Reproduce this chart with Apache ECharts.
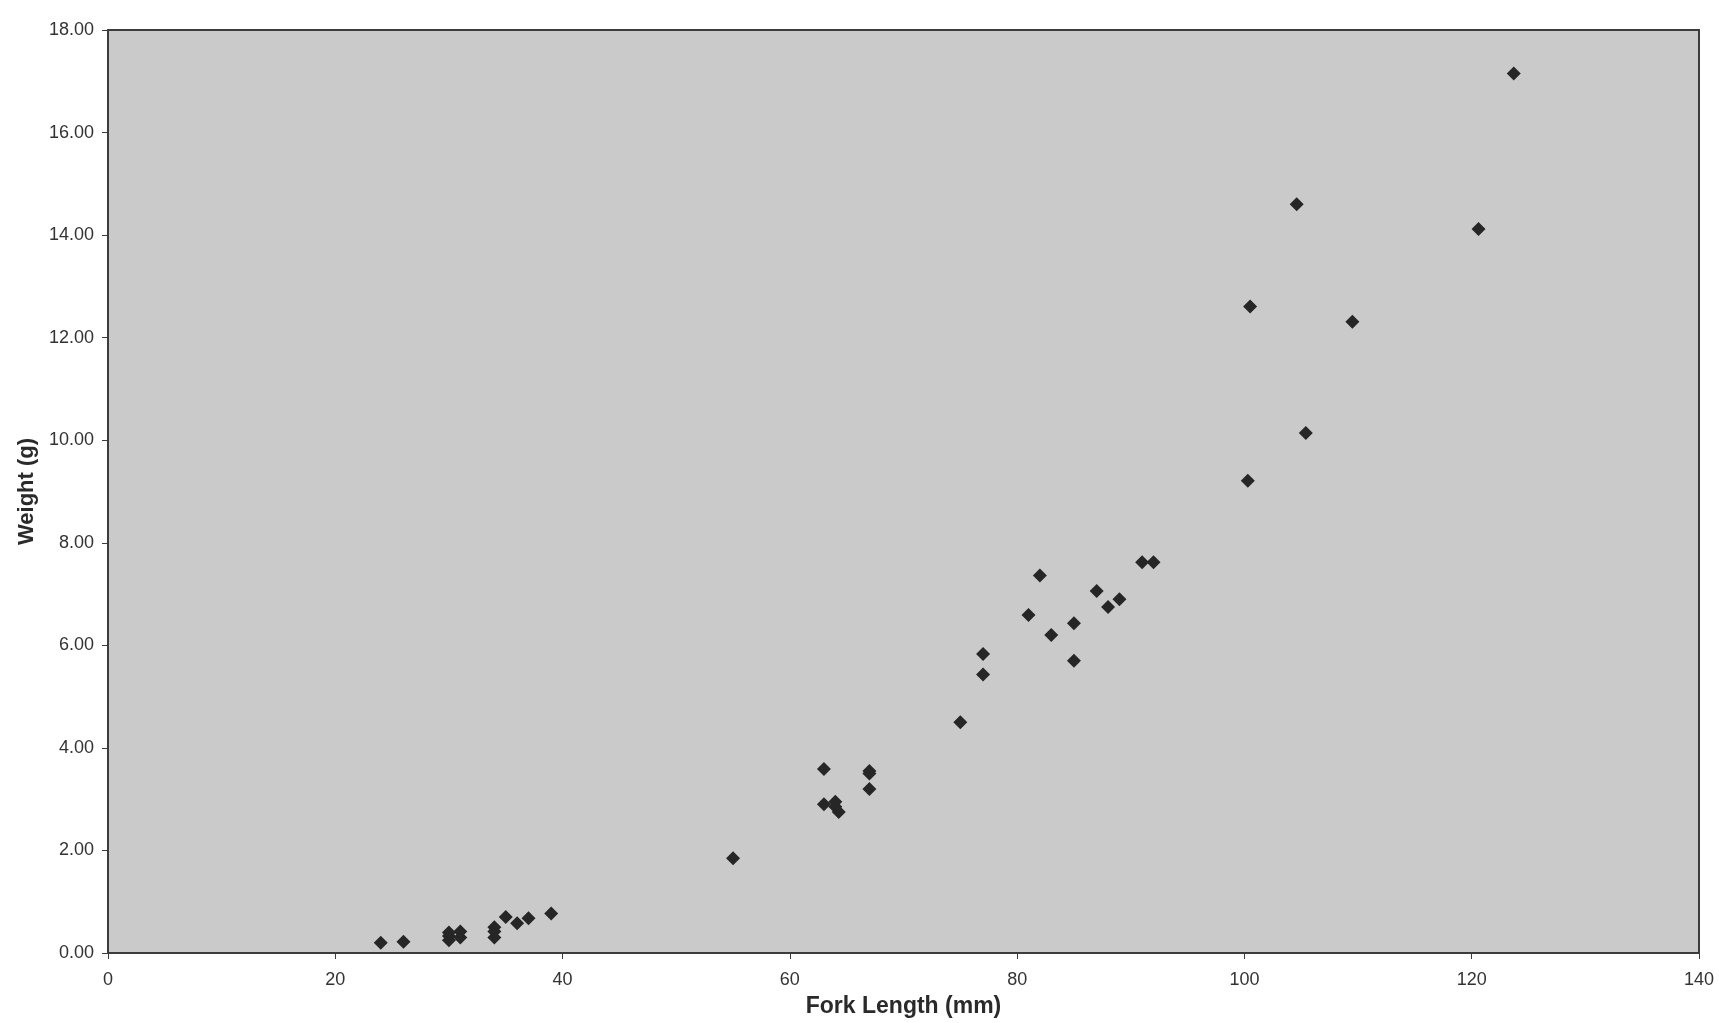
<!DOCTYPE html>
<html>
<head>
<meta charset="utf-8">
<title>Weight vs Fork Length</title>
<script src="https://cdn.jsdelivr.net/npm/echarts@6/dist/echarts.min.js"></script>
<style>
html,body{margin:0;padding:0;background:#fff;}
#chart{width:1719px;height:1023px;}
</style>
</head>
<body>
<div id="chart"></div>
<script>
// fork length (mm) and weight (g)
var forkLength = [24, 26, 30, 30, 30, 31, 31, 34, 34, 34, 35, 36, 37, 39,
  55, 63, 63, 64, 64, 64.3, 67, 67, 67,
  75, 77, 77, 81, 82, 83, 85, 85, 87, 88, 89, 91, 92,
  100.3, 100.5, 104.6, 105.4, 109.5, 120.6, 123.7];
var weight = [0.2, 0.22, 0.25, 0.33, 0.4, 0.3, 0.42, 0.3, 0.42, 0.5, 0.7, 0.58, 0.68, 0.77,
  1.85, 3.59, 2.9, 2.95, 2.85, 2.75, 3.55, 3.5, 3.2,
  4.5, 5.43, 5.83, 6.59, 7.36, 6.2, 6.43, 5.7, 7.06, 6.75, 6.9, 7.62, 7.62,
  9.21, 12.61, 14.6, 10.14, 12.31, 14.12, 17.15];
var xTicks = [0, 20, 40, 60, 80, 100, 120, 140];
var yTicks = [0, 2, 4, 6, 8, 10, 12, 14, 16, 18];

var points = [];
for (var i = 0; i < forkLength.length; i++) {
  points.push([forkLength[i], weight[i]]);
}

var fontName = '"Liberation Sans", Arial, sans-serif';
var chart = echarts.init(document.getElementById('chart'));
var option = {
  backgroundColor: '#ffffff',
  animation: false,
  grid: {
    left: 108, right: 20, top: 30, bottom: 70,
    show: true,
    backgroundColor: '#cacaca',
    borderColor: '#3c3c3c',
    borderWidth: 2
  },
  xAxis: {
    type: 'value',
    min: xTicks[0],
    max: xTicks[xTicks.length - 1],
    interval: 20,
    name: 'Fork Length (mm)',
    nameLocation: 'middle',
    nameGap: 42,
    nameTextStyle: {fontFamily: fontName, fontSize: 23, fontWeight: 'bold', color: '#2a2a2a'},
    axisLine: {show: true, lineStyle: {color: '#3c3c3c', width: 2}},
    axisTick: {show: true, inside: false, length: 6, lineStyle: {color: '#3c3c3c'}},
    axisLabel: {fontFamily: fontName, fontSize: 18, color: '#333', margin: 18},
    splitLine: {show: false}
  },
  yAxis: {
    type: 'value',
    min: yTicks[0],
    max: yTicks[yTicks.length - 1],
    interval: 2,
    name: 'Weight (g)',
    nameLocation: 'middle',
    nameGap: 70,
    nameRotate: 90,
    nameTextStyle: {fontFamily: fontName, fontSize: 22, fontWeight: 'bold', color: '#2a2a2a'},
    axisLine: {show: true, lineStyle: {color: '#3c3c3c', width: 2}},
    axisTick: {show: true, inside: false, length: 6, lineStyle: {color: '#3c3c3c'}},
    axisLabel: {
      fontFamily: fontName, fontSize: 18, color: '#333', margin: 14,
      formatter: function (v) { return v.toFixed(2); }
    },
    splitLine: {show: false}
  },
  series: [{
    type: 'scatter',
    symbol: 'diamond',
    symbolSize: 14,
    itemStyle: {color: '#262626', opacity: 1},
    data: points
  }]
};
chart.setOption(option);
</script>
</body>
</html>
